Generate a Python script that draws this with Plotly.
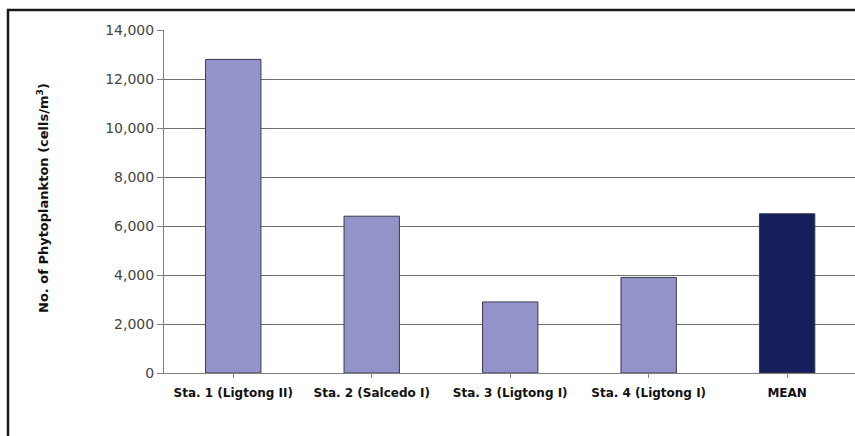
import plotly.graph_objects as go

# Phytoplankton density per sampling station, with the overall mean
stations = ["Sta. 1 (Ligtong II)", "Sta. 2 (Salcedo I)", "Sta. 3 (Ligtong I)",
            "Sta. 4 (Ligtong I)", "MEAN"]
cells_per_m3 = [12800, 6400, 2900, 3900, 6500]
bar_colors = ["#9393C9", "#9393C9", "#9393C9", "#9393C9", "#141F5C"]
y_ticks = [0, 2000, 4000, 6000, 8000, 10000, 12000, 14000]

W, H = 855, 436
ML, MR, MT, MB = 164, 0, 30, 63
pw = W - ML - MR
ph = H - MT - MB

fig = go.Figure(go.Bar(
    x=list(range(len(stations))),
    y=cells_per_m3,
    width=0.4,
    marker=dict(color=bar_colors, line=dict(color="#3a3a4a", width=1)),
))

fig.update_layout(
    width=W, height=H,
    margin=dict(l=ML, r=MR, t=MT, b=MB),
    paper_bgcolor="white", plot_bgcolor="white",
    showlegend=False,
    font=dict(family="DejaVu Sans, Verdana, sans-serif", color="#333"),
    xaxis=dict(
        range=[-0.5, 4.49],
        tickmode="array",
        tickvals=list(range(len(stations))),
        ticktext=[f"<b>{s}</b>" for s in stations],
        tickfont=dict(size=12, color="#111"),
        ticklabelstandoff=5,
        showgrid=False, zeroline=False,
        showline=True, linecolor="#808080", linewidth=1,
        ticks="outside", tickson="boundaries", ticklen=4, tickcolor="#808080",
    ),
    yaxis=dict(
        range=[0, 14000],
        tickvals=y_ticks,
        tickformat=",d",
        tickfont=dict(size=14, color="#444"),
        showgrid=True, gridcolor="#6e6e6e", gridwidth=1,
        zeroline=False,
        showline=True, linecolor="#808080", linewidth=1,
        ticks="outside", ticklen=6, tickcolor="#808080",
    ),
    annotations=[dict(
        text="<b>No. of Phytoplankton (cells/m<sup>3</sup>)</b>",
        xref="paper", yref="paper",
        x=(43 - ML) / pw, y=(H - MB - 198) / ph,
        xanchor="center", yanchor="middle",
        textangle=-90, showarrow=False,
        font=dict(size=13, color="#111"),
    )],
    shapes=[dict(
        type="rect", xref="paper", yref="paper",
        x0=(8 - ML) / pw, x1=(W + 20 - ML) / pw,
        y0=(H - MB - (H + 20)) / ph, y1=(H - MB - 10) / ph,
        line=dict(color="#1a1a1a", width=2.5),
        fillcolor="rgba(0,0,0,0)", layer="below",
    )],
)

fig.write_html("out.html")
